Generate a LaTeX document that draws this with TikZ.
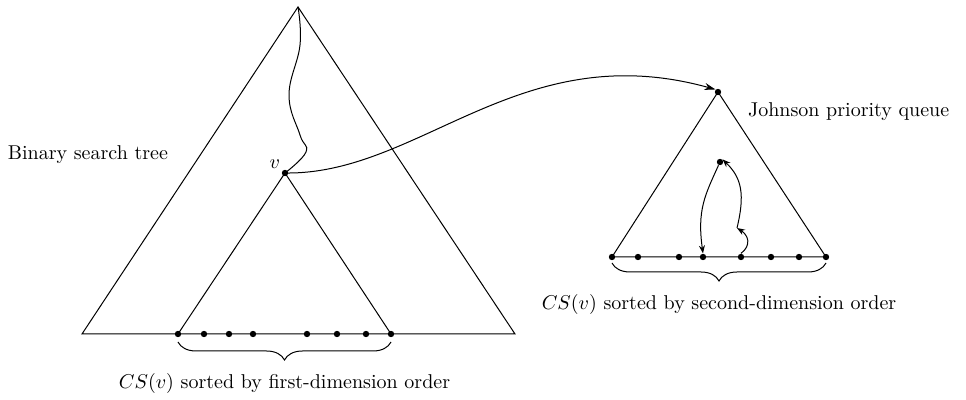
\documentclass[tikz,border=0pt]{standalone}
\usetikzlibrary{decorations.pathreplacing,arrows.meta}
\begin{document}
\begin{tikzpicture}[x=0.5pt,y=-0.5pt,
  dot/.style={circle,fill=black,inner sep=0pt,minimum size=3.2pt},
  edge/.style={line width=0.5pt},
  arr/.style={line width=0.5pt,-{Stealth[length=4pt,width=3pt]}},
  bigarr/.style={line width=0.5pt,-{Stealth[length=5.5pt,width=3.5pt]}},
  mybrace/.style={decorate,decoration={brace,mirror,amplitude=9pt},line width=0.5pt}]
\useasboundingbox (0,0) rectangle (966,400);
% big triangle
\coordinate (A) at (298,7);
\coordinate (BL) at (82,334);
\coordinate (BR) at (515,334);
\draw[edge] (BL) -- (A) -- (BR) -- cycle;
% inner triangle
\node[dot] (v) at (285,173) {};
\node[anchor=south east,inner sep=1pt] (vl) at (v.north west) {$v$};
\foreach \i/\x in {1/178,2/204,3/229,4/253,5/307,6/337,7/366,8/391}
  \node[dot] (a\i) at (\x,334) {};
\draw[edge] (a1.center) -- (v.center) -- (a8.center);
% wiggly path
\draw[edge] plot[smooth,tension=0.7] coordinates {(298,7) (300,45) (289,95) (300,135) (306,152) (285,173)};
\draw[mybrace] (178,342) -- (391,342) node[midway,below=12pt] (l1) {$CS(v)$ sorted by first-dimension order};
\node[anchor=east] (bst) at (175,155) {Binary search tree};
% right triangle
\node[dot] (r) at (718,92) {};
\foreach \i/\x in {1/612,2/638,3/679,4/703,5/741,6/771,7/799,8/826}
  \node[dot] (b\i) at (\x,257) {};
\draw[edge] (b1.center) -- (r.center) -- (b8.center) -- cycle;
\node[dot] (in) at (720,162) {};
\node[anchor=west] (jpq) at (741,112) {Johnson priority queue};
\coordinate (mid) at (737,228);
\draw[arr] (in) .. controls (705,195) and (697,210) .. (b4.north);
\draw[arr] (b5.north) .. controls (752,245) and (748,235) .. (mid);
\draw[arr] (mid) .. controls (745,195) and (742,178) .. (in.north east);
\draw[mybrace] (612,263) -- (826,263) node[midway,below=12pt] (l2) {$CS(v)$ sorted by second-dimension order};
% connector
\draw[bigarr] (v.center) .. controls (420,175) and (520,35) .. (r.north west);
\end{tikzpicture}
\end{document}
